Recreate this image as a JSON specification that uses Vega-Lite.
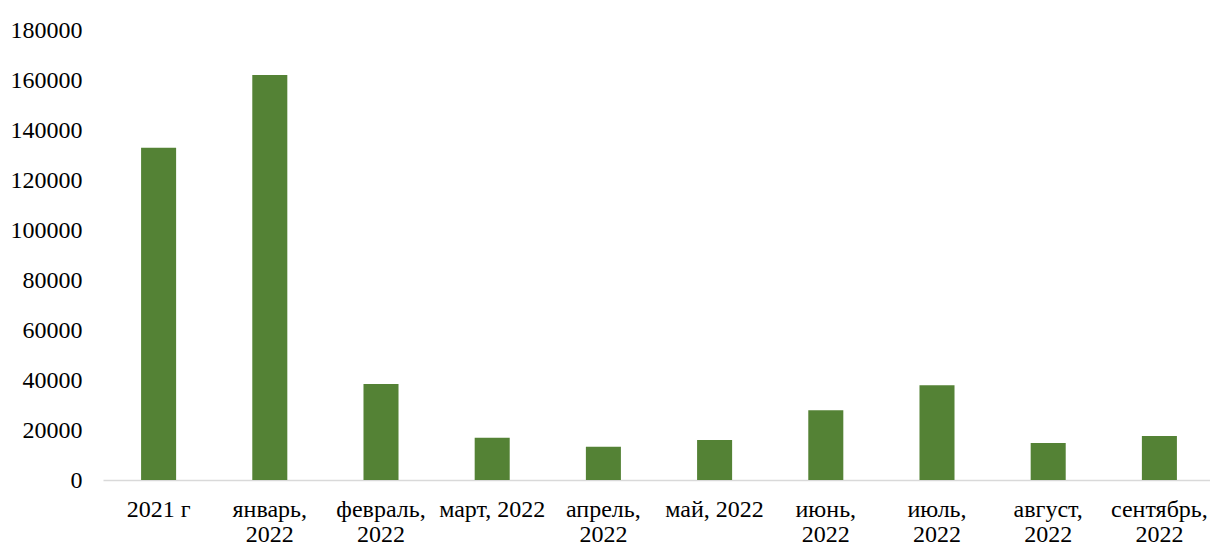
{
  "$schema": "https://vega.github.io/schema/vega-lite/v6.json",
  "autosize": {"type": "none"},
  "padding": {"left": 103, "top": 30, "right": 0, "bottom": 62},
  "width": 1112,
  "height": 450,
  "background": "white",
  "config": {
    "view": {"stroke": null},
    "font": "Liberation Serif"
  },
  "data": {
    "values": [
      {"period": "2021 г", "value": 132900},
      {"period": "январь, 2022", "value": 162000},
      {"period": "февраль, 2022", "value": 38400},
      {"period": "март, 2022", "value": 16900},
      {"period": "апрель, 2022", "value": 13300},
      {"period": "май, 2022", "value": 16000},
      {"period": "июнь, 2022", "value": 27900},
      {"period": "июль, 2022", "value": 37900},
      {"period": "август, 2022", "value": 14800},
      {"period": "сентябрь, 2022", "value": 17600}
    ]
  },
  "mark": {"type": "bar", "color": "#548235"},
  "encoding": {
    "x": {
      "field": "period",
      "type": "nominal",
      "sort": null,
      "title": null,
      "scale": {"paddingInner": 0.685, "paddingOuter": 0.3425},
      "axis": {
        "labelAngle": 0,
        "labelFont": "Liberation Serif",
        "labelFontSize": 24,
        "labelColor": "#000000",
        "labelLimit": 0,
        "labelPadding": 17,
        "labelLineHeight": 25,
        "labelBaseline": "top",
        "labelOverlap": false,
        "ticks": false,
        "domainColor": "#d9d9d9",
        "domainWidth": 1.5,
        "labelExpr": "indexof(['2021 г', 'март, 2022', 'май, 2022'], datum.value) >= 0 ? datum.value : split(datum.value, ' ')"
      }
    },
    "y": {
      "field": "value",
      "type": "quantitative",
      "title": null,
      "scale": {"domain": [0, 180000], "nice": false},
      "axis": {
        "values": [0, 20000, 40000, 60000, 80000, 100000, 120000, 140000, 160000, 180000],
        "format": "d",
        "labelFont": "Liberation Serif",
        "labelFontSize": 24,
        "labelColor": "#000000",
        "labelPadding": 21,
        "ticks": false,
        "domain": false,
        "grid": false
      }
    }
  }
}
